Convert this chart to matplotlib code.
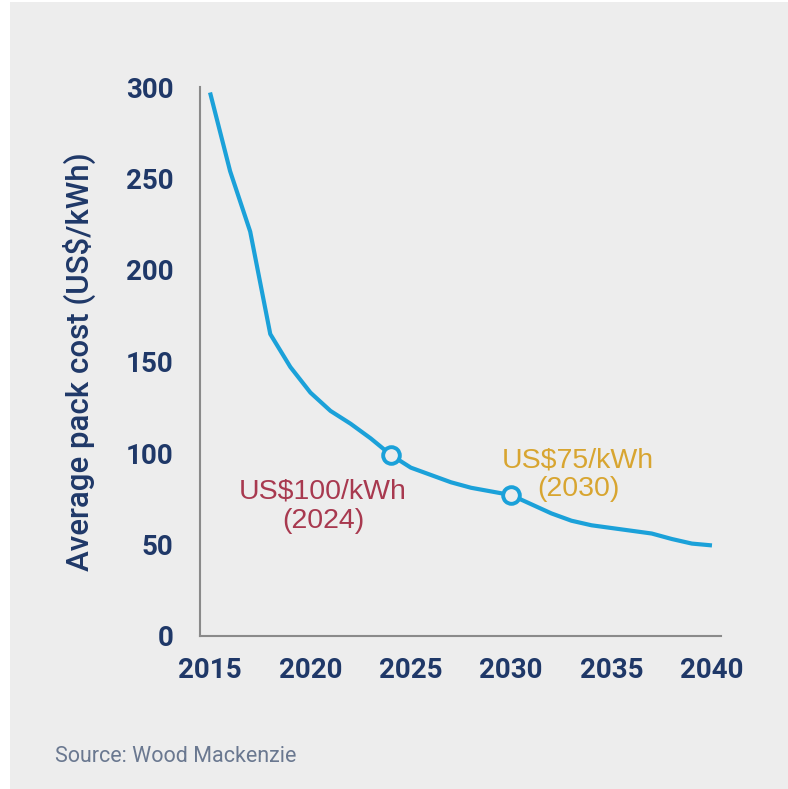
import matplotlib.pyplot as plt
from matplotlib.patches import Rectangle

# average pack cost
years = [2015, 2016, 2017, 2018, 2019, 2020, 2021, 2022, 2023, 2024, 2025, 2026, 2027,
         2028, 2029, 2030, 2031, 2032, 2033, 2034, 2035, 2036, 2037, 2038, 2039, 2040]
cost = [297, 254, 221, 165, 147, 133, 123, 116, 108, 99, 92, 88, 84,
        81, 79, 77, 72, 67, 63, 60.5, 59, 57.5, 56, 53, 50.5, 49.5]

marked_years = [2024, 2030]
marked_cost = [99, 77]

xticks = [2015, 2020, 2025, 2030, 2035, 2040]
yticks = [0, 50, 100, 150, 200, 250, 300]

navy = '#1f3868'
blue = '#1ba1d9'
bg = '#ededed'

plt.rcParams['font.family'] = ['Roboto', 'DejaVu Sans']

fig = plt.figure(figsize=(7.88, 7.89), dpi=100)
fig.patch.set_facecolor('white')
fig.add_artist(Rectangle((10 / 788, 0), 1, 1 - 2 / 789, transform=fig.transFigure,
                         facecolor=bg, edgecolor='none', zorder=-1))

ax = fig.add_axes([200 / 788, 1 - 636 / 789, 521 / 788, 549 / 789])
ax.set_facecolor(bg)
ax.plot(years, cost, color=blue, lw=3, solid_capstyle='butt', solid_joinstyle='round', zorder=2)
ax.plot(marked_years, marked_cost, 'o', ms=12, mfc=bg, mec=blue, mew=2.8, zorder=3)

ax.set_xlim(2014.5, 2040.45)
ax.set_ylim(0, 300)
ax.set_xticks(xticks)
ax.set_yticks(yticks)
ax.tick_params(length=0, labelsize=20, labelcolor=navy)
ax.tick_params(axis='y', pad=19)
ax.tick_params(axis='x', pad=15)
for lab in ax.get_xticklabels() + ax.get_yticklabels():
    lab.set_fontweight('bold')

for s in ['top', 'right']:
    ax.spines[s].set_visible(False)
for s in ['left', 'bottom']:
    ax.spines[s].set_color('#8a8a8a')
    ax.spines[s].set_linewidth(1.5)

ax.set_ylabel('Average pack cost (US$/kWh)', fontsize=22.5, color=navy, fontweight='medium')
ax.yaxis.set_label_coords(-104 / 521, 0.5)

ax.text(2020.63, 71, 'US$100/kWh\n(2024)', color='#a8394f', fontsize=20.5, ha='center', va='center',
        linespacing=1.15, family=['Liberation Sans', 'DejaVu Sans'])
ax.text(2033.33, 88, 'US$75/kWh\n(2030)', color='#d8a530', fontsize=20.5, ha='center', va='center',
        linespacing=1.15, family=['Liberation Sans', 'DejaVu Sans'])

fig.text(55 / 788, 1 - 757 / 789, 'Source: Wood Mackenzie', color='#6a7890', fontsize=15.5,
         ha='left', va='center')

fig.savefig('out.png', dpi=100, facecolor=fig.get_facecolor())
